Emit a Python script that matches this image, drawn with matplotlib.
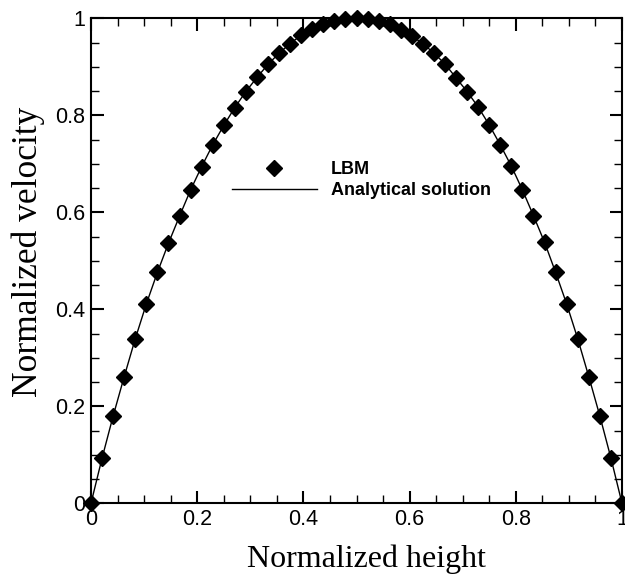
import matplotlib.pyplot as plt
from matplotlib.ticker import MultipleLocator

# lattice nodes across the channel (normalized)
height = [0.0000, 0.0208, 0.0417, 0.0625, 0.0833, 0.1042, 0.1250, 0.1458,
          0.1667, 0.1875, 0.2083, 0.2292, 0.2500, 0.2708, 0.2917, 0.3125,
          0.3333, 0.3542, 0.3750, 0.3958, 0.4167, 0.4375, 0.4583, 0.4792,
          0.5000, 0.5208, 0.5417, 0.5625, 0.5833, 0.6042, 0.6250, 0.6458,
          0.6667, 0.6875, 0.7083, 0.7292, 0.7500, 0.7708, 0.7917, 0.8125,
          0.8333, 0.8542, 0.8750, 0.8958, 0.9167, 0.9375, 0.9583, 0.9792,
          1.0000]

# LBM velocity
lbm_velocity = [0.000, 0.093, 0.180, 0.261, 0.339, 0.411, 0.476, 0.536,
                0.592, 0.646, 0.694, 0.739, 0.779, 0.816, 0.849, 0.878,
                0.905, 0.928, 0.948, 0.965, 0.978, 0.988, 0.995, 0.999,
                1.000, 0.999, 0.995, 0.988, 0.976, 0.963, 0.948, 0.928,
                0.906, 0.877, 0.849, 0.817, 0.780, 0.739, 0.695, 0.646,
                0.593, 0.538, 0.476, 0.411, 0.339, 0.261, 0.180, 0.093,
                0.000]

# analytical curve runs through the same points
analytical_velocity = lbm_velocity

x_ticks = [0, 0.2, 0.4, 0.6, 0.8, 1.0]
x_tick_labels = ['0', '0.2', '0.4', '0.6', '0.8', '1']
y_ticks = [0, 0.2, 0.4, 0.6, 0.8, 1.0]
y_tick_labels = ['0', '0.2', '0.4', '0.6', '0.8', '1']

W, H = 625, 578
fig = plt.figure(figsize=(W / 100, H / 100), dpi=100)
ax = fig.add_axes([91 / W, 1 - 503.3 / H, 531 / W, 485 / H])

line, = ax.plot(height, analytical_velocity, color='black', lw=1.0,
                label='Analytical solution', clip_on=False)
pts, = ax.plot(height, lbm_velocity, ls='none', marker='D', ms=8,
               color='black', label='LBM', clip_on=False, zorder=3)

ax.set_xlim(0, 1)
ax.set_ylim(0, 1)
ax.set_xticks(x_ticks)
ax.set_xticklabels(x_tick_labels)
ax.set_yticks(y_ticks)
ax.set_yticklabels(y_tick_labels)
ax.xaxis.set_minor_locator(MultipleLocator(0.05))
ax.yaxis.set_minor_locator(MultipleLocator(0.05))

ax.tick_params(which='both', direction='in', top=True, right=True)
ax.tick_params(which='major', length=9, width=1.5, labelsize=15.5, pad=4)
ax.tick_params(which='minor', length=5.5, width=1)
for lab in ax.get_xticklabels() + ax.get_yticklabels():
    lab.set_family('Liberation Sans')
for s in ax.spines.values():
    s.set_linewidth(1.5)

fig.text(366.5 / W, 1 - 567 / H, 'Normalized height', family='Liberation Serif',
         fontsize=23, ha='center', va='baseline')
fig.text(28 / W, 1 - 252 / H, 'Normalized velocity', family='Liberation Serif',
         fontsize=25.5, ha='center', va='center', rotation=90)

leg = ax.legend([pts, line], ['LBM', 'Analytical solution'], loc='upper left',
                bbox_to_anchor=(232 / W, 1 - 161.5 / H),
                bbox_transform=fig.transFigure, frameon=False, numpoints=1,
                handlelength=4.7, handletextpad=0.78, labelspacing=0.22,
                borderpad=0, borderaxespad=0,
                prop={'family': 'Liberation Sans', 'weight': 'bold', 'size': 13})

fig.savefig('out.png', dpi=100)
